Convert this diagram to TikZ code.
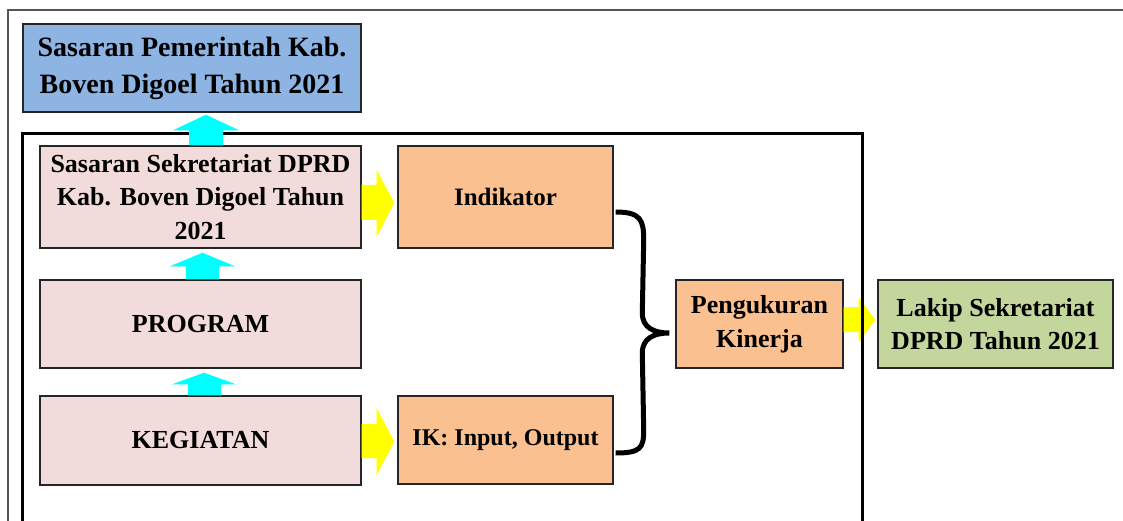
\documentclass[tikz,border=0pt]{standalone}
\usepackage{fontspec}
\setmainfont{Liberation Serif}
\usetikzlibrary{calc}
\definecolor{bluebox}{RGB}{141,180,226}
\definecolor{pinkbox}{RGB}{242,220,219}
\definecolor{orangebox}{RGB}{250,192,144}
\definecolor{greenbox}{RGB}{195,214,155}
\definecolor{bordercol}{RGB}{38,38,38}
\definecolor{framegray}{RGB}{85,85,85}
\definecolor{cyanarrow}{RGB}{0,255,255}
\definecolor{yellowarrow}{RGB}{255,255,0}
\tikzset{
  boxbase/.style={draw=bordercol, line width=1.4pt, inner sep=0pt, align=center},
  bluestyle/.style={boxbase, fill=bluebox},
  pinkstyle/.style={boxbase, fill=pinkbox},
  orangestyle/.style={boxbase, fill=orangebox},
  greenstyle/.style={boxbase, fill=greenbox},
  cyanfill/.style={fill=cyanarrow},
  yellowfill/.style={fill=yellowarrow},
  bracestyle/.style={draw=black, line width=5pt},
  innerframe/.style={draw=black, line width=3pt},
  outerframe/.style={draw=framegray, line width=1.5pt},
}
\newcommand{\fsA}{\bfseries\fontsize{28}{37}\selectfont}
\newcommand{\fsB}{\bfseries\fontsize{26}{33.5}\selectfont}
\newcommand{\fsC}{\bfseries\fontsize{25}{33}\selectfont}
\newcommand{\fsD}{\bfseries\fontsize{24}{33}\selectfont}
\begin{document}
\begin{tikzpicture}[x=1pt, y=-1pt]
\useasboundingbox[fill=white] (0,0) rectangle (1123,521);
\clip (0,0) rectangle (1123,521);

% outer frame (open at right and bottom)
\draw[outerframe] (8,540) -- (8,10) -- (1140,10);

% nodes
\node[bluestyle, minimum width=338pt, minimum height=88pt, font=\fsA] (top) at (192,68) {Sasaran Pemerintah Kab.\\Boven Digoel Tahun 2021};
\node[pinkstyle, minimum width=321pt, minimum height=102pt, font=\fsB] (sas) at (200.5,197) {Sasaran Sekretariat DPRD\\Kab. Boven Digoel Tahun\\2021};
\node[pinkstyle, minimum width=321pt, minimum height=88pt, font=\fsB] (prog) at (200.5,324) {PROGRAM};
\node[pinkstyle, minimum width=321pt, minimum height=89pt, font=\fsB] (keg) at (200.5,440.5) {KEGIATAN};
\node[orangestyle, minimum width=215pt, minimum height=102pt, font=\fsC] (ind) at (505.5,197) {Indikator};
\node[orangestyle, minimum width=215pt, minimum height=88pt, font=\fsD] (ik) at (505.5,440) {IK: Input, Output};
\node[orangestyle, minimum width=167pt, minimum height=88pt, font=\fsB] (pk) at (759.5,324) {Pengukuran\\Kinerja};
\node[greenstyle, minimum width=235pt, minimum height=88pt, font=\fsB] (lakip) at (995.5,324) {Lakip Sekretariat\\DPRD Tahun 2021};

% yellow arrow to Lakip (under the frame)
\fill[yellowfill] ($(pk.east)+(0,-17)$) -- ++(15,0) -- ++(0,-10) -- ($(lakip.west)+(-2,-4)$) -- ($(pk.east)+(15,18)$) -- ++(0,-10) -- ($(pk.east)+(0,8)$) -- cycle;

% inner frame (open at bottom)
\draw[innerframe] (22,540) -- (22,134) -- (862,134) -- (862,540);

% cyan arrows
\fill[cyanfill] ($(sas.north)+(-11.5,0)$) -- ++(0,-15) -- ++(-16,0) -- ($(top.south)+(14,2)$) -- ($(sas.north)+(38.5,-15)$) -- ++(-16,0) -- ($(sas.north)+(22.5,0)$) -- cycle;
\fill[cyanfill] ($(prog.north)+(-14.5,0)$) -- ++(0,-13) -- ++(-16,0) -- ($(sas.south)+(2,4)$) -- ($(prog.north)+(34.5,-13)$) -- ++(-16,0) -- ($(prog.north)+(18.5,0)$) -- cycle;
\fill[cyanfill] ($(keg.north)+(-12.5,0)$) -- ++(0,-11) -- ++(-16,0) -- ($(prog.south)+(3.5,4)$) -- ($(keg.north)+(35.5,-11)$) -- ++(-15,0) -- ($(keg.north)+(20.5,0)$) -- cycle;

% yellow arrows
\fill[yellowfill] ($(sas.east)+(0,-12)$) -- ++(15,0) -- ++(0,-15) -- ($(ind.west)+(-3,6)$) -- ($(sas.east)+(15,40)$) -- ++(0,-17) -- ($(sas.east)+(0,23)$) -- cycle;
\fill[yellowfill] ($(keg.east)+(0,-16.5)$) -- ++(15,0) -- ++(0,-16) -- ($(ik.west)+(-3,1.5)$) -- ($(keg.east)+(15,34.5)$) -- ++(0,-17) -- ($(keg.east)+(0,17.5)$) -- cycle;

% brace
\coordinate (b1) at ($(ind.east)+(2,15)$);
\coordinate (b2) at ($(ik.east)+(2,13)$);
\coordinate (btip) at ($(pk.west)+(-6,9)$);
\draw[bracestyle] (b1) .. controls ($(b1)+(25,0)$) and ($(b1)+(28,8)$) .. ($(b1)+(28,28)$)
  -- ($(btip)+(-27,-20)$) .. controls ($(btip)+(-27,-5)$) and ($(btip)+(-15,0)$) .. (btip)
  .. controls ($(btip)+(-15,0)$) and ($(btip)+(-27,5)$) .. ($(btip)+(-27,20)$)
  -- ($(b2)+(28,-23)$) .. controls ($(b2)+(28,-5)$) and ($(b2)+(25,0)$) .. (b2);
\end{tikzpicture}
\end{document}
